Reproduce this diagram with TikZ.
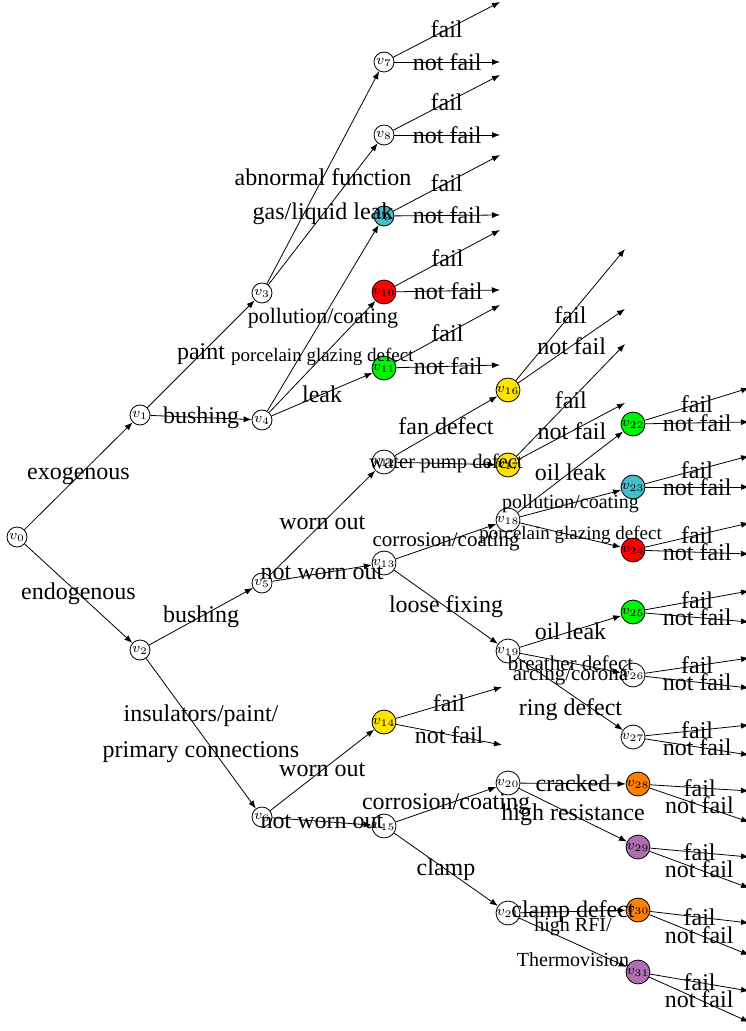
\documentclass[tikz,border=0pt]{standalone}
\usepackage{fontspec}
\setmainfont{Liberation Serif}
\usetikzlibrary{arrows.meta}

\definecolor{vcyan}{RGB}{64,191,207}
\definecolor{vyellow}{RGB}{255,228,0}
\definecolor{vgreen}{RGB}{0,245,0}
\definecolor{vred}{RGB}{255,0,0}
\definecolor{vorange}{RGB}{255,128,0}
\definecolor{vpurple}{RGB}{175,110,175}

\begin{document}
\begin{tikzpicture}[x=0.5pt, y=-0.5pt,
  vnode/.style={circle, draw, inner sep=0pt, minimum size=10pt, font=\scriptsize, fill=white},
  branch/.style={-{Latex[length=4pt, width=3pt]}, line width=0.4pt},
  lbl/.style={font=\fontsize{12}{18}\selectfont, inner sep=0pt, align=center},
  lbls/.style={lbl, font=\fontsize{10}{17.5}\selectfont}]

\def\cA{17}
\def\cB{140}
\def\cC{262}
\def\cD{384}
\def\cE{508}
\def\cF{633}
\def\cG{638}

\path [use as bounding box] (0,0) rectangle (745,1031);

% STATES
\foreach \n/\x/\y/\c in {0/\cA/537/white, 1/\cB/415/white, 2/\cB/650/white,
    3/\cC/293/white, 4/\cC/420/white, 5/\cC/583/white, 6/\cC/817/white,
    7/\cD/62/white, 8/\cD/135/white, 9/\cD/216/vcyan, 10/\cD/292/vred,
    11/\cD/368/vgreen, 12/\cD/462/white, 13/\cD/563/white, 14/\cD/722/vyellow,
    15/\cD/826/white, 16/\cE/390/vyellow, 17/\cE/465/vyellow, 18/\cE/520/white,
    19/\cE/651/white, 20/\cE/783/white, 21/\cE/913/white,
    22/\cF/424/vgreen, 23/\cF/487/vcyan, 24/\cF/550/vred, 25/\cF/612/vgreen,
    26/\cF/675/white, 27/\cF/737/white,
    28/\cG/784/vorange, 29/\cG/847/vpurple, 30/\cG/910/vorange, 31/\cG/972/vpurple}
  \node [vnode, fill=\c] (v\n) at (\x,\y) {$v_{\n}$};

% CAUSES
\draw [branch] (v0) -- node[lbl] {exogenous} (v1);
\draw [branch] (v0) -- node[lbl] {endogenous} (v2);
\draw [branch] (v1) -- node[lbl] {paint} (v3);
\draw [branch] (v1) -- node[lbl] {bushing} (v4);
\draw [branch] (v2) -- node[lbl] {bushing} (v5);
\draw [branch] (v2) -- node[lbl] {insulators/paint/\\primary connections} (v6);

\draw [branch] (v3) -- node[lbl] {abnormal function} (v7);
\draw [branch] (v3) -- node[lbl] {gas/liquid leak} (v8);
\draw [branch] (v4) -- node[lbl, font=\fontsize{11}{13}\selectfont] {pollution/coating} (v9);
\draw [branch] (v4) -- node[lbls, font=\fontsize{9.5}{11}\selectfont] {porcelain glazing defect} (v10);
\draw [branch] (v4) -- node[lbl] {leak} (v11);
\draw [branch] (v5) -- node[lbl] {worn out} (v12);
\draw [branch] (v5) -- node[lbl] {not worn out} (v13);
\draw [branch] (v6) -- node[lbl] {worn out} (v14);
\draw [branch] (v6) -- node[lbl] {not worn out} (v15);

% MODES
\draw [branch] (v12) -- node[lbl] {fan defect} (v16);
\draw [branch] (v12) -- node[lbls, font=\fontsize{10.3}{12}\selectfont] {water pump defect} (v17);
\draw [branch] (v13) -- node[lbls, font=\fontsize{10.5}{12}\selectfont] {corrosion/coating} (v18);
\draw [branch] (v13) -- node[lbl] {loose fixing} (v19);
\draw [branch] (v15) -- node[lbl] {corrosion/coating} (v20);
\draw [branch] (v15) -- node[lbl] {clamp} (v21);

\draw [branch] (v18) -- node[lbl] {oil leak} (v22);
\draw [branch] (v18) -- node[lbls] {pollution/coating} (v23);
\draw [branch] (v18) -- node[lbls, font=\fontsize{9.5}{11}\selectfont] {porcelain glazing defect} (v24);
\draw [branch] (v19) -- node[lbl] {oil leak} (v25);
\draw [branch] (v19) -- node[lbls, font=\fontsize{10.5}{12}\selectfont] {breather defect} (v26);
\draw [branch] (v19) -- node[lbl, font=\fontsize{12}{17.5}\selectfont] {{\fontsize{10.5}{17.5}\selectfont arcing/corona}\\ring defect} (v27);
\draw [branch] (v20) -- node[lbl] {cracked} (v28);
\draw [branch] (v20) -- node[lbl] {high resistance} (v29);
\draw [branch] (v21) -- node[lbl] {clamp defect} (v30);
\draw [branch] (v21) -- node[lbls] {high RFI/\\Thermovision} (v31);

% OUTCOMES
\foreach \n/\dx/\fa/\nf in {7/116/-60/0, 8/116/-60/0, 9/116/-61/-1, 10/116/-62/-2,
    11/116/-63/-3, 14/118/-35/23, 16/117/-141/-81, 17/117/-121/-62,
    22/116/-36/-2, 23/116/-31/0, 24/116/-27/4, 25/116/-21/10, 26/116/-17/13,
    27/116/-12/18, 28/111/7/38, 29/111/10/41, 30/111/13/45, 31/111/19/50} {
  \path (v\n) ++(\dx,\fa) coordinate (f\n) (v\n) ++(\dx,\nf) coordinate (nf\n);
  \draw [branch] (v\n) -- node[lbl] {fail} (f\n);
  \draw [branch] (v\n) -- node[lbl] {not fail} (nf\n);
}

\end{tikzpicture}
\end{document}
